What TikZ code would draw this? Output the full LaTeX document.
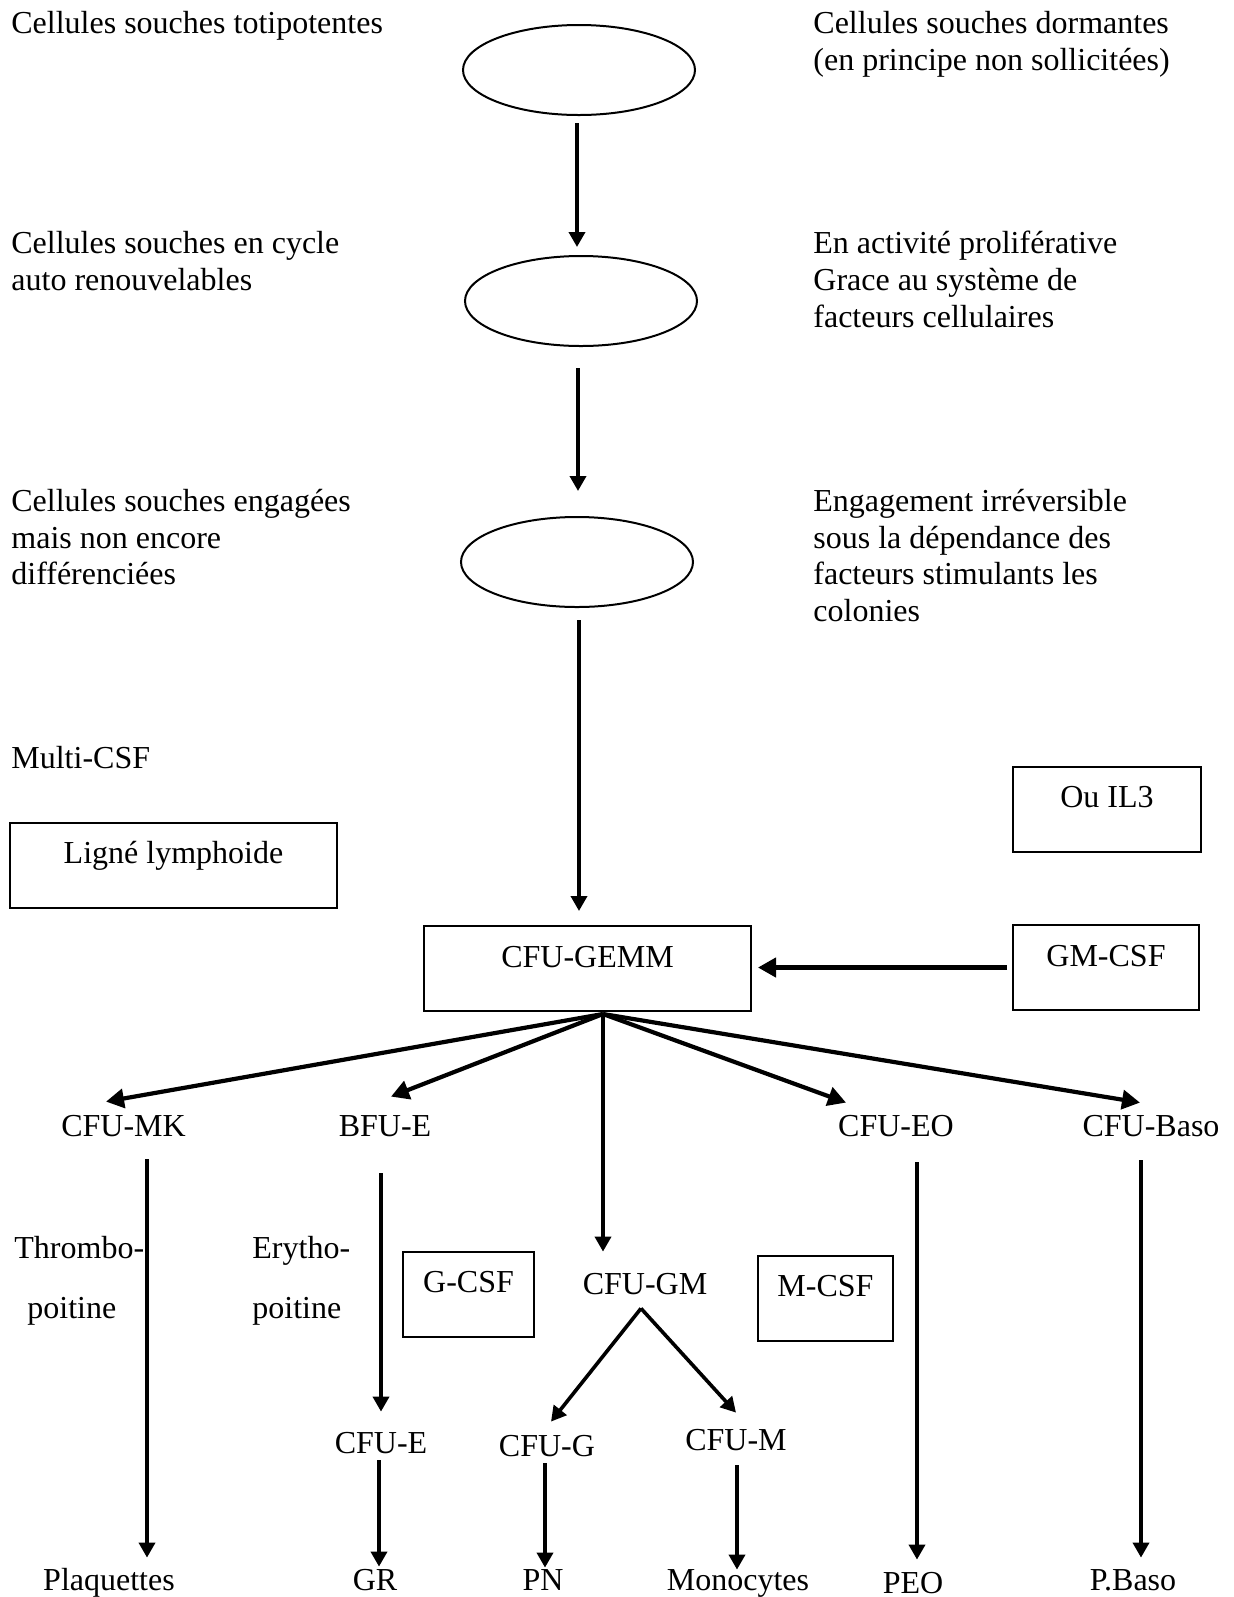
\documentclass[tikz,border=0pt]{standalone}
\usepackage{fontspec}
\setmainfont{Liberation Serif}
\usetikzlibrary{arrows.meta,calc,positioning,shapes.geometric}

\begin{document}
\begin{tikzpicture}[x=0.5pt,y=-0.5pt,font=\fontsize{16}{18.3}\selectfont,
  cell/.style={draw,ellipse,line width=1pt,inner sep=0pt,minimum width=116pt,minimum height=45pt},
  fbox/.style={draw,line width=1pt,inner sep=0pt,text height=20.5pt,text depth=22pt},
  lbl/.style={inner sep=0pt,text height=11pt,text depth=0pt,anchor=base},
  txt/.style={inner sep=0pt,anchor=north west,align=left},
  arr/.style={line width=1.8pt,-{Triangle[length=7.5pt,width=8pt]}},
  fanarr/.style={line width=2.1pt,-{Triangle[length=9pt,width=9.5pt]}}]
  \useasboundingbox (0,0) rectangle (1233,1597);

  \node[txt] (tot) at (11,11) {Cellules souches totipotentes};
  \node[txt] (cyc) at (11,231) {Cellules souches en cycle\\auto renouvelables};
  \node[txt] (eng) at (11,489) {Cellules souches engagées\\mais non encore\\différenciées};
  \node[txt] (multi) at (11,746) {Multi-CSF};
  \node[txt] (dorm) at (813,11) {Cellules souches dormantes\\(en principe non sollicitées)};
  \node[txt] (prolif) at (813,231) {En activité proliférative\\Grace au système de\\facteurs cellulaires};
  \node[txt] (irrev) at (813,489) {Engagement irréversible\\sous la dépendance des\\facteurs stimulants les\\colonies};

  \node[cell] (e1) at (579,70) {};
  \node[cell] (e2) at (581,301) {};
  \node[cell] (e3) at (577,562) {};

  \node[fbox,minimum width=163.5pt] (lymph) at (173.5,865) {Ligné lymphoide};
  \node[fbox,minimum width=94pt] (il3) at (1107,809) {Ou IL3};
  \node[fbox,minimum width=163.5pt] (gemm) at (587.5,968.5) {CFU-GEMM};
  \node[fbox,minimum width=93pt] (gmcsf) at (1106,967.5) {GM-CSF};
  \node[fbox,minimum width=65.5pt] (gcsf) at (468.5,1294) {G-CSF};
  \node[fbox,minimum width=67.5pt] (mcsf) at (825.5,1298) {M-CSF};

  \node[lbl] (mk) at (123.5,1136) {CFU-MK};
  \node[lbl] (bfue) at (385,1136) {BFU-E};
  \node[lbl] (eo) at (896,1136) {CFU-EO};
  \node[lbl] (baso) at (1151,1136) {CFU-Baso};
  \node[lbl] (gm) at (645,1294) {CFU-GM};
  \node[lbl] (cfue) at (381,1453) {CFU-E};
  \node[lbl] (cfug) at (547,1456) {CFU-G};
  \node[lbl] (cfum) at (736,1450) {CFU-M};
  \node[lbl] (plaq) at (109,1590) {Plaquettes};
  \node[lbl] (gr) at (375,1590) {GR};
  \node[lbl] (pn) at (543,1590) {PN};
  \node[lbl] (mono) at (738,1590) {Monocytes};
  \node[lbl] (peo) at (913,1593) {PEO};
  \node[lbl] (pbaso) at (1133,1590) {P.Baso};
  \node[lbl,anchor=base west] (thr) at (14,1258) {Thrombo-};
  \node[lbl,anchor=base west] (thrp) at (27,1318) {poitine};
  \node[lbl,anchor=base west] (ery) at (252,1258) {Erytho-};
  \node[lbl,anchor=base west] (eryp) at (252,1318) {poitine};

  \draw[arr] ($(e1.south)+(-2,7)$) -- ($(e2.north)+(-4,-8)$);
  \draw[arr] ($(e2.south)+(-3,21)$) -- ($(e3.north)+(1,-25)$);
  \draw[arr] ($(e3.south)+(2,12)$) -- ($(gemm.north)+(-8.5,-14)$);
  \draw[fanarr] ($(gmcsf.west)+(-5,0)$) -- ($(gemm.east)+(6,-1)$);

  \coordinate (split) at ($(gemm.south)+(15.5,2)$);
  \draw[fanarr] (split) -- ($(mk.north)+(-17.5,-12)$);
  \draw[fanarr] (split) -- ($(bfue.north)+(6,-17)$);
  \draw[arr] (split) -- ($(gm.north)+(-42,-20)$);
  \draw[fanarr] (split) -- ($(eo.north)+(-50,-11)$);
  \draw[fanarr] (split) -- ($(baso.north)+(-11,-11)$);

  \draw[arr] ($(mk.south)+(23.5,23)$) -- ($(plaq.north)+(38,-10)$);
  \draw[arr] ($(bfue.south)+(-4,37)$) -- ($(cfue.north)+(0,-19)$);
  \draw[arr] ($(eo.south)+(21,26)$) -- ($(peo.north)+(4,-11)$);
  \draw[arr] ($(baso.south)+(-10,24)$) -- ($(pbaso.north)+(8,-10)$);

  \coordinate (gmsplit) at ($(gm.south)+(-4,14)$);
  \draw[arr] (gmsplit) -- ($(cfug.north)+(4,-12)$);
  \draw[arr] (gmsplit) -- ($(cfum.north)+(0,-15)$);
  \draw[arr] ($(cfue.south)+(-2,7)$) -- ($(gr.north)+(4,-1)$);
  \draw[arr] ($(cfug.south)+(-2,7)$) -- ($(pn.north)+(2,0)$);
  \draw[arr] ($(cfum.south)+(1,15)$) -- ($(mono.north)+(-1,2)$);
\end{tikzpicture}
\end{document}
